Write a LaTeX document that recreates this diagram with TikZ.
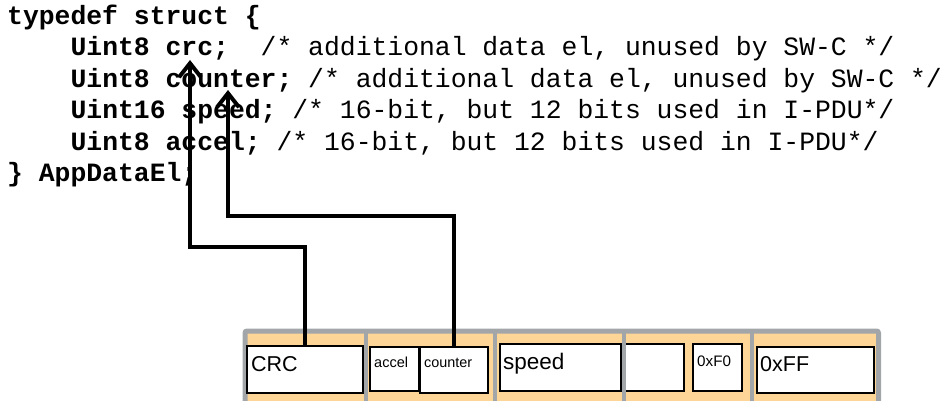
\documentclass[tikz,border=0pt]{standalone}
\usepackage{fontspec}
\setmainfont{Liberation Sans}
\newfontfamily\codefont{Liberation Mono}
\usetikzlibrary{arrows.meta}
\definecolor{frameorange}{HTML}{FDD597}
\definecolor{framegray}{HTML}{A3A6A9}
\begin{document}
\frenchspacing
\begin{tikzpicture}[x=1pt,y=-1pt,
  code/.style={anchor=base west, inner sep=0pt, font=\codefont\fontsize{26.4}{31}\selectfont},
  fld/.style={draw=black, line width=1.6pt, fill=white, inner sep=0pt},
  lbl/.style={anchor=base west, inner sep=0pt},
  arr/.style={line width=4pt, -{Straight Barb[length=14pt,width=22pt]}},
  sep/.style={draw=framegray, line width=4pt},
]
\useasboundingbox (0,0) rectangle (948,401);

% code
\node[code] (l1) at (7,25) {\bfseries typedef struct \{};
\node[code] (l2) at (70.4,55.5) {\textbf{Uint8 crc;}\ \ /* additional data el, unused by SW-C */};
\node[code] (l3) at (70.4,87.5) {\textbf{Uint8 counter;} /* additional data el, unused by SW-C */};
\node[code] (l4) at (70.4,119) {\textbf{Uint16 speed;} /* 16-bit, but 12 bits used in I-PDU*/};
\node[code] (l5) at (70.4,150.5) {\textbf{Uint8 accel;} /* 16-bit, but 12 bits used in I-PDU*/};
\node[code] (l6) at (7,182) {\bfseries \} AppDataEl;};

% frame
\fill[frameorange] (245,331) rectangle (878.5,401);
\draw[framegray, line width=5pt, rounded corners=2pt] (245,401) -- (245,331) -- (878.5,331) -- (878.5,401);

% fields
\node[fld, minimum width=116pt, minimum height=47pt] (crcbox) at (305,369.5) {};
\node[fld, minimum width=49pt, minimum height=44pt] (accelbox) at (394.5,369) {};
\node[fld, minimum width=68pt, minimum height=46pt] (cntbox) at (454,370) {};
\node[fld, minimum width=121pt, minimum height=47pt] (speedbox) at (560.5,367.5) {};
\node[fld, minimum width=63pt, minimum height=47pt] (emptybox) at (652.5,367.5) {};
\node[fld, minimum width=49pt, minimum height=47pt] (f0box) at (717.5,367.5) {};
\node[fld, minimum width=117pt, minimum height=46pt] (ffbox) at (815.5,370) {};

% separators
\draw[sep] (365.8,331) -- (365.8,401);
\draw[sep] (495,331) -- (495,401);
\draw[sep] (624,331) -- (624,401);
\draw[sep] (752,331) -- (752,401);

% labels
\node[lbl, font=\fontsize{21.5}{24}\selectfont] (crct) at (251,371) {CRC};
\node[lbl, font=\fontsize{14.5}{16}\selectfont] (accelt) at (374,367) {accel};
\node[lbl, font=\fontsize{14.4}{16}\selectfont] (cntt) at (424,367) {counter};
\node[lbl, font=\fontsize{22.5}{24}\selectfont] (speedt) at (503,369.5) {speed};
\node[lbl, font=\fontsize{15.2}{16}\selectfont] (f0t) at (697,366) {0xF0};
\node[lbl, font=\fontsize{21.5}{24}\selectfont] (fft) at (760,371) {0xFF};

% arrows
\coordinate (crctip) at (190,60);
\coordinate (cnttip) at (228,90);
\draw[arr] (crcbox.north) |- (190,247) -- (crctip);
\draw[arr] (cntbox.north) |- (228,216) -- (cnttip);
\end{tikzpicture}
\end{document}
